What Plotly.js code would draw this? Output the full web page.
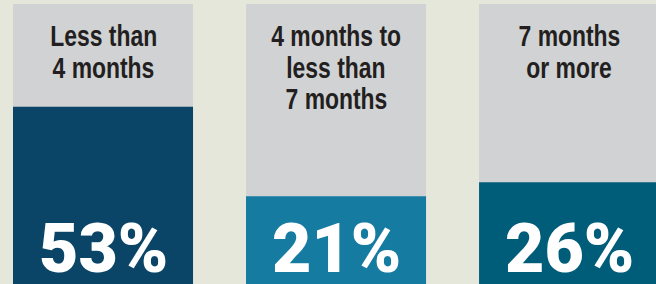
<!DOCTYPE html>
<html>
<head>
<meta charset="utf-8">
<script src="https://cdn.plot.ly/plotly-3.0.1.min.js"></script>
<style>html,body{margin:0;padding:0;background:#e5e7da;overflow:hidden}</style>
</head>
<body>
<div id="chart" style="width:656px;height:284px"></div>
<script>
// Data
const categories = ["Less than 4 months", "4 months to less than 7 months", "7 months or more"];
const labelLines = [["Less than", "4 months"], ["4 months to", "less than", "7 months"], ["7 months", "or more"]];
const shares = [53, 21, 26];
const shareText = ["53%", "21%", "26%"];

// Style
const barColors = ["#0a4567", "#167ba1", "#005d79"];
const colGrey = "#d1d2d4";
const bg = "#e5e7da";
const Y_MIN = -10.45, Y_MAX = 91.23, COLUMN_TOP = 89.8;
const NARROW = 0.79;

const columns = {
  type: "bar", x: categories, y: categories.map(() => COLUMN_TOP - Y_MIN), base: Y_MIN,
  marker: {color: colGrey, line: {width: 0}}, hoverinfo: "skip", showlegend: false
};
const bars = {
  type: "bar", x: categories, y: shares.map(v => v - Y_MIN), base: Y_MIN,
  marker: {color: barColors, line: {width: 0}}, textposition: "none", showlegend: false
};

const annotations = [];
categories.forEach((c, i) => {
  labelLines[i].forEach((line, j) => {
    annotations.push({
      x: c, xref: "x", y: 1, yref: "paper", yanchor: "top", xanchor: "center",
      yshift: -18 - j * 31.5, showarrow: false, text: line, name: "label",
      font: {family: "Liberation Sans, Arial, sans-serif", size: 29, color: "#231f20", weight: 700}
    });
  });
  annotations.push({
    x: c, xref: "x", y: 0, yref: "paper", yanchor: "bottom", xanchor: "center",
    yshift: -7, showarrow: false, text: shareText[i], name: "pct",
    font: {family: "Roboto, Liberation Sans, sans-serif", size: 68, color: "#ffffff", weight: 900}
  });
});

const layout = {
  width: 656, height: 284, margin: {l: 0, r: 0, t: 0, b: 0, pad: 0},
  paper_bgcolor: bg, plot_bgcolor: bg,
  barmode: "overlay", bargap: 1 - 180 / 233,
  xaxis: {type: "category", range: [-0.442, 2.373], visible: false, fixedrange: true},
  yaxis: {range: [Y_MIN, Y_MAX], visible: false, fixedrange: true},
  annotations: annotations, showlegend: false
};
Plotly.newPlot("chart", [columns, bars], layout, {displayModeBar: false, staticPlot: true}).then(gd => {
  // condense the label lettering horizontally (the reference uses a condensed face)
  gd.querySelectorAll(".annotation").forEach((g, k) => {
    const ann = layout.annotations[k];
    if (!ann || ann.name !== "label") return;
    const t = g.querySelector("text.annotation-text");
    if (!t) return;
    const bb = t.getBBox();
    const cx = bb.x + bb.width / 2;
    t.setAttribute("transform", `translate(${cx},0) scale(${NARROW},1) translate(${-cx},0)`);
  });
});
</script>
</body>
</html>
